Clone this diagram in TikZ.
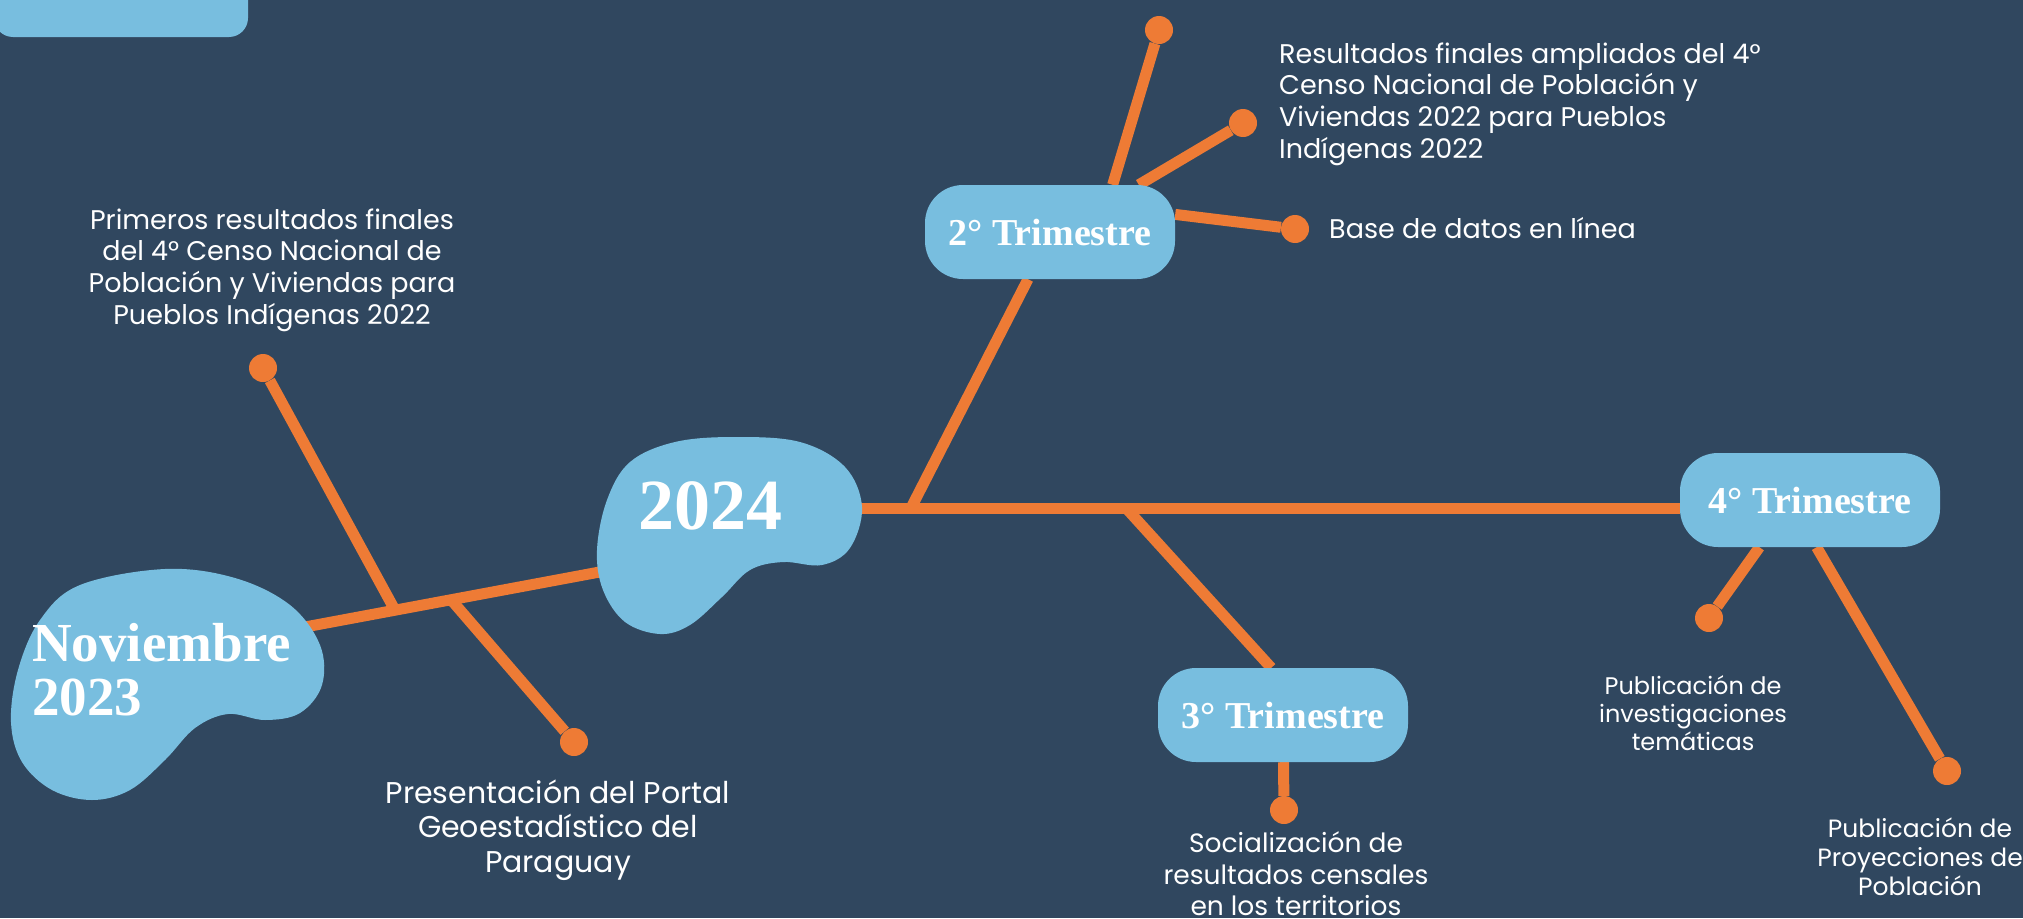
\documentclass[tikz,border=0pt]{standalone}
\usepackage{fontspec}
\setmainfont{Liberation Serif}
\newfontfamily\popfont{Poppins}
\usetikzlibrary{backgrounds,calc}

\definecolor{navy}{HTML}{30475F}
\definecolor{skyblue}{HTML}{78BEDF}
\definecolor{tangerine}{HTML}{EE7B35}

\tikzset{
  link/.style={tangerine, line width=11pt},
  dot/.style={circle, fill=tangerine, minimum size=28pt, inner sep=0pt},
  pill/.style={fill=skyblue, rounded corners=38pt, minimum width=250pt, minimum height=94pt,
    text=white, font=\fontsize{38}{40}\selectfont\bfseries},
  bigyear/.style={text=white, inner sep=0pt, font=\bfseries},
  info/.style={text=white, align=center, inner sep=0pt, font=\popfont\fontsize{27}{31.7}\selectfont}
}

\begin{document}
\begin{tikzpicture}[x=1pt, y=-1pt]
  \useasboundingbox (0,0) rectangle (2023,918);

  % tab in the corner
  \fill[skyblue, rounded corners=19pt] (-6,-30) rectangle (248,37);

  % blobs
  \fill[skyblue] plot[smooth cycle, tension=0.6] coordinates {
    (165,569) (235,578) (290,605) (320,645) (322,685) (300,713) (265,720) (228,714)
    (195,728) (165,760) (130,790) (92,800) (52,790) (22,762) (11,722) (18,670)
    (40,620) (80,585)};
  \fill[skyblue] plot[smooth cycle, tension=0.6] coordinates {
    (735,437) (800,442) (845,467) (862,507) (850,548) (822,565) (783,562) (750,570)
    (722,597) (690,625) (660,634) (625,622) (603,590) (597,550) (607,500) (630,462)
    (675,442)};
  \node[bigyear, align=left, anchor=west, font=\fontsize{55}{54}\selectfont\bfseries] (nov) at (32,670) {Noviembre\\2023};
  \node[bigyear, anchor=base, font=\fontsize{72}{76}\selectfont\bfseries] (y24) at (710,529) {2024};

  % trimestres
  \node[pill] (t2) at (1050,232) {2° Trimestre};
  \node[pill] (t3) at (1283,715) {3° Trimestre};
  \node[pill, minimum width=260pt] (t4) at (1810,500) {4° Trimestre};

  % end dots
  \node[dot] (p1) at (263,368) {};
  \node[dot] (p2) at (574,742) {};
  \node[dot] (q1) at (1159,30) {};
  \node[dot] (q2) at (1243,123) {};
  \node[dot] (q3) at (1295,229) {};
  \node[dot] (r1) at (1284,810) {};
  \node[dot] (s1) at (1709,618) {};
  \node[dot] (s2) at (1947,771) {};

  % texts
  \node[info] (l1) at (272,270) {Primeros resultados finales\\del 4° Censo Nacional de\\Población y Viviendas para\\Pueblos Indígenas 2022};
  \node[info, font=\popfont\fontsize{30}{34.5}\selectfont] (l2) at (558,830) {Presentación del Portal\\Geoestadístico del\\Paraguay};
  \node[info, align=left, anchor=west] (l3) at (1279,104) {Resultados finales ampliados del 4°\\Censo Nacional de Población y\\Viviendas 2022 para Pueblos\\Indígenas 2022};
  \node[info, anchor=west] (l4) at (1329,228) {Base de datos en línea};
  \node[info, font=\popfont\fontsize{26.5}{31.5}\selectfont] (l5) at (1296,874) {Socialización de\\resultados censales\\en los territorios};
  \node[info, font=\popfont\fontsize{24}{28}\selectfont] (l6) at (1693,713) {Publicación de\\investigaciones\\temáticas};
  \node[info, font=\popfont\fontsize{25}{29}\selectfont] (l7) at (1920,857) {Publicación de\\Proyecciones de\\Población};

  % points on the lines
  \coordinate (novend) at (305,627);
  \coordinate (y24end) at (605,571);
  \coordinate (y24out) at (850,508);
  \coordinate (jA) at ($(novend)!0.3!(y24end)$);
  \coordinate (jB) at ($(novend)!0.487!(y24end)$);
  \coordinate (jC) at (911,508);
  \coordinate (jD) at (1126,508);

  \begin{scope}[on background layer]
    \fill[navy] (0,0) rectangle (2023,918);
    \draw[link] (novend) -- (y24end);
    \draw[link] (y24out) -- (y24out -| t4.west);
    \draw[link] (p1) -- (jA);
    \draw[link] (jB) -- (p2);
    \draw[link] (jC) -- (t2.-115);
    \draw[link] (t2.37) -- (q1);
    \draw[link] (t2.28) -- (q2);
    \draw[link] (t2.8) -- (q3);
    \draw[link] (jD) -- (t3.104);
    \draw[link] (t3) -- (r1);
    \draw[link] (t4.-137) -- (s1);
    \draw[link] (t4.-82) -- (s2);
  \end{scope}
\end{tikzpicture}
\end{document}
